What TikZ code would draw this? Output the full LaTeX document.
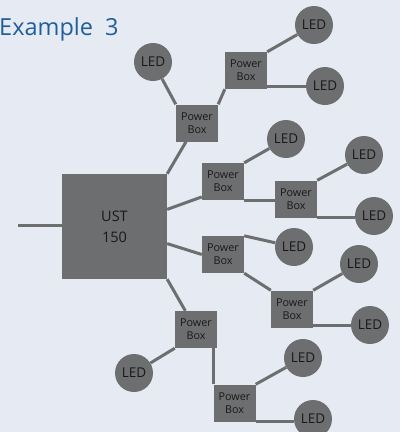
\documentclass[tikz,border=0pt]{standalone}
\usepackage{fontspec}
\setmainfont{Open Sans}
\usetikzlibrary{positioning}
\definecolor{boxgray}{HTML}{6D6E70}
\definecolor{bgblue}{HTML}{E6EAF3}
\definecolor{titleblue}{HTML}{1F5E9B}
\tikzset{
    lednode/.style = {circle, fill=boxgray, minimum size=38pt, inner sep=0pt, align=center, font=\fontsize{13.5}{16}\selectfont, text=black!90},
    pbnode/.style = {rectangle, fill=boxgray, minimum width=42pt, minimum height=37pt, inner sep=0pt, align=center, font=\fontsize{10.8}{13}\selectfont, text=black!90},
    ustnode/.style = {rectangle, fill=boxgray, minimum size=105pt, inner sep=0pt, align=center, font=\fontsize{14.5}{21}\selectfont, text=black!90},
    edgen/.style = {-, line width=3pt, boxgray}
}

\begin{document}
\begin{tikzpicture}[x=1pt, y=-1pt]
  \fill[bgblue] (0,0) rectangle (400,432);
  \useasboundingbox (0,0) rectangle (400,432);
  \node[anchor=base west, inner sep=0pt, text=titleblue, font=\fontsize{23.5}{28}\selectfont] (title) at (-1,35) {Example\ \ 3};
  % main unit
  \node[ustnode] (ust) at (114.5,226.5) {UST\\150};
  \coordinate (in) at (18,225);
  % power boxes
  \node[pbnode] (pb1) at (197,123) {Power\\Box};
  \node[pbnode] (pb2) at (246,70.5) {Power\\Box};
  \node[pbnode] (pb3) at (223,181.5) {Power\\Box};
  \node[pbnode] (pb4) at (296,199) {Power\\Box};
  \node[pbnode] (pb5) at (223,254.5) {Power\\Box};
  \node[pbnode] (pb6) at (292,309) {Power\\Box};
  \node[pbnode] (pb7) at (196,329.5) {Power\\Box};
  \node[pbnode] (pb8) at (234.5,403) {Power\\Box};
  % leds
  \node[lednode] (led1) at (153,62) {LED};
  \node[lednode] (led2) at (314,25) {LED};
  \node[lednode] (led3) at (325,86) {LED};
  \node[lednode] (led4) at (286,139) {LED};
  \node[lednode] (led5) at (364,155) {LED};
  \node[lednode] (led6) at (374,216) {LED};
  \node[lednode] (led7) at (294,247) {LED};
  \node[lednode] (led8) at (359,264) {LED};
  \node[lednode] (led9) at (370,325) {LED};
  \node[lednode] (led10) at (134,373) {LED};
  \node[lednode] (led11) at (303,358) {LED};
  \node[lednode] (led12) at (313,419) {LED};
  % connections
  \draw[edgen] (in) -- (in -| ust.west);
  \draw[edgen] (ust.north east) -- (pb1);
  \draw[edgen] (led1) -- (pb1.north west);
  \draw[edgen] (pb1.north east) -- (pb2.south west);
  \draw[edgen] (pb2.north east) -- (led2);
  \draw[edgen] (led3 -| pb2.east) -- (led3);
  \draw[edgen] (ust.18) -- (pb3.216);
  \draw[edgen] (pb3.north east) -- (led4);
  \draw[edgen] (pb3.south east) -- (pb3.south east -| pb4.west);
  \draw[edgen] (pb4.north east) -- (led5);
  \draw[edgen] (pb4.south east) -- (pb4.south east -| led6.west);
  \draw[edgen] (ust.342) -- (pb5.west);
  \draw[edgen] (pb5.north east) -- (led7);
  \draw[edgen] (pb5.south east) -- (pb6.north west);
  \draw[edgen] (pb6.north east) -- (led8);
  \draw[edgen] (led9 -| pb6.east) -- (led9);
  \draw[edgen] (ust.south east) -- (pb7);
  \draw[edgen] (pb7.south west) -- (led10);
  \draw[edgen] (pb8.north west) -- (pb8.north west |- pb7.south);
  \draw[edgen] (pb8.north east) -- (led11);
  \draw[edgen] (pb8.south east) -- (pb8.south east -| led12.west);
\end{tikzpicture}
\end{document}
